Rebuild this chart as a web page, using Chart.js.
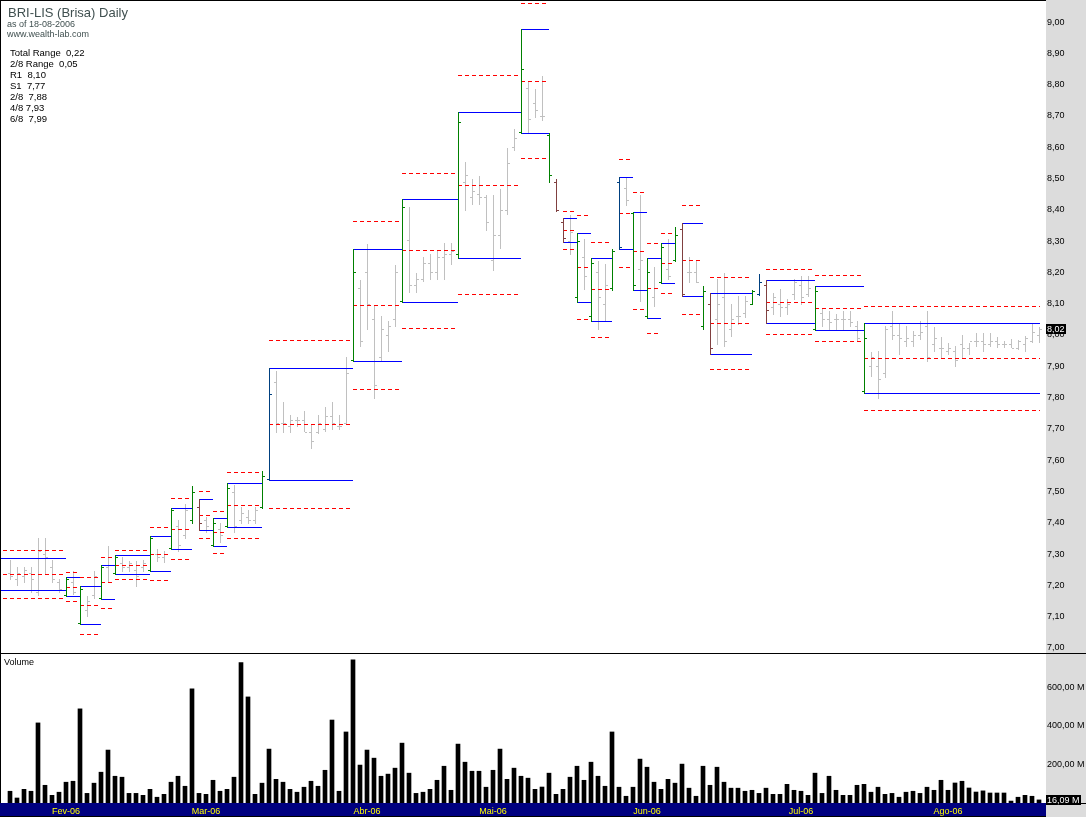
<!DOCTYPE html>
<html>
<head>
<meta charset="utf-8">
<script src="https://cdn.jsdelivr.net/npm/chart.js@4.4.1/dist/chart.umd.min.js"></script>
<style>
  body { margin: 0; background: #fff; width: 1086px; height: 817px; overflow: hidden; position: relative;
         font-family: "Liberation Sans", Arial, sans-serif; }
  canvas { position: absolute; left: 0; }
  #priceChart { top: 0; }
  #volChart { top: 653px; }
  .t { position: absolute; white-space: pre; line-height: 1; }
</style>
</head>
<body>
<canvas id="priceChart" width="1086" height="653"></canvas>
<canvas id="volChart" width="1086" height="164"></canvas>

<div class="t" style="left:8px;top:6px;font-size:13px;color:#405050">BRI-LIS (Brisa) Daily</div>
<div class="t" style="left:7px;top:20px;font-size:9px;color:#405050">as of 18-08-2006</div>
<div class="t" style="left:7px;top:30px;font-size:9px;color:#405050">www.wealth-lab.com</div>
<div class="t" style="left:10px;top:47px;font-size:9.5px;line-height:11px;color:#000">Total Range  0,22
2/8 Range  0,05
R1  8,10
S1  7,77
2/8  7,88
4/8 7,93
6/8  7,99</div>
<div class="t" style="left:4px;top:658px;font-size:9px;color:#000">Volume</div>

<script>
const FONT = '"Liberation Sans", Arial, sans-serif';

// month labels on the time axis (bar index of the first session of the month)
const monthLabels = ['Fev-06', 'Mar-06', 'Abr-06', 'Mai-06', 'Jun-06', 'Jul-06', 'Ago-06'];
const monthTicks = [8, 28, 51, 69, 91, 113, 134];

const priceTicks = [7.0, 7.1, 7.2, 7.3, 7.4, 7.5, 7.6, 7.7, 7.8, 7.9, 8.0,
                    8.1, 8.2, 8.3, 8.4, 8.5, 8.6, 8.7, 8.8, 8.9, 9.0];
const volumeTicks = [200, 400, 600];   // millions

// daily bars, 20-01-2006 .. 18-08-2006
const priceOpen = [
  7.24, 7.22, 7.23, 7.24, 7.18, 7.30, 7.26, 7.21, 7.17, 7.21,
  7.08, 7.12, 7.17, 7.16, 7.26, 7.24, 7.27, 7.26, 7.25, 7.26,
  7.25, 7.30, 7.29, 7.32, 7.39, 7.36, 7.41, 7.45, 7.41, 7.33,
  7.38, 7.39, 7.50, 7.41, 7.42, 7.41, 7.45, 7.54, 7.85, 7.72,
  7.71, 7.73, 7.73, 7.69, 7.69, 7.70, 7.74, 7.71, 7.72, 7.92,
  8.15, 8.20, 8.05, 7.93, 8.00, 8.05, 8.11, 8.305, 8.16, 8.18,
  8.23, 8.20, 8.25, 8.26, 8.26, 8.49, 8.44, 8.45, 8.44, 8.24,
  8.32, 8.40, 8.60, 8.65, 8.79, 8.74, 8.70, 8.64, 8.49, 8.36,
  8.30, 8.12, 8.25, 8.06, 8.20, 8.10, 8.15, 8.49, 8.47, 8.39,
  8.21, 8.06, 8.12, 8.17, 8.21, 8.24, 8.34, 8.20, 8.20, 8.03,
  8.10, 8.05, 8.12, 8.02, 8.06, 8.07, 8.10, 8.13, 8.16, 8.09,
  8.10, 8.09, 8.13, 8.16, 8.13, 8.02, 8.07, 8.05, 8.05, 8.05,
  8.05, 8.03, 7.82, 7.90, 7.90, 7.88, 8.03, 8.00, 7.98, 7.98,
  8.00, 8.03, 7.97, 7.96, 7.95, 7.95, 7.97, 7.96, 7.98, 7.98,
  7.97, 7.98, 7.97, 7.97, 7.96, 7.97, 7.98, 8.00
];
const priceHigh = [
  7.28, 7.26, 7.26, 7.26, 7.35, 7.35, 7.28, 7.22, 7.226, 7.247,
  7.197, 7.166, 7.247, 7.265, 7.327, 7.297, 7.29, 7.278, 7.278, 7.28,
  7.357, 7.317, 7.31, 7.447, 7.41, 7.46, 7.518, 7.476, 7.42, 7.415,
  7.40, 7.527, 7.52, 7.45, 7.44, 7.45, 7.566, 7.895, 7.886, 7.787,
  7.746, 7.737, 7.758, 7.716, 7.746, 7.77, 7.787, 7.746, 7.929, 8.276,
  8.177, 8.29, 8.094, 8.06, 8.046, 8.225, 8.436, 8.409, 8.197, 8.249,
  8.258, 8.267, 8.295, 8.295, 8.714, 8.553, 8.497, 8.507, 8.446, 8.446,
  8.466, 8.596, 8.658, 8.977, 8.807, 8.786, 8.827, 8.647, 8.497, 8.375,
  8.382, 8.327, 8.307, 8.247, 8.238, 8.227, 8.276, 8.506, 8.505, 8.394,
  8.446, 8.247, 8.217, 8.295, 8.307, 8.346, 8.357, 8.249, 8.238, 8.157,
  8.135, 8.18, 8.198, 8.10, 8.126, 8.126, 8.145, 8.196, 8.177, 8.135,
  8.146, 8.116, 8.18, 8.187, 8.187, 8.157, 8.087, 8.078, 8.068, 8.078,
  8.078, 8.046, 8.037, 7.947, 7.95, 8.03, 8.078, 8.036, 8.03, 8.014,
  8.046, 8.078, 8.027, 7.995, 7.973, 7.964, 8.0, 7.973, 8.006, 8.006,
  8.006, 7.993, 7.982, 7.987, 7.985, 7.998, 8.036, 8.027
];
const priceLow = [
  7.22, 7.20, 7.21, 7.18, 7.17, 7.24, 7.21, 7.18, 7.165, 7.172,
  7.076, 7.102, 7.161, 7.156, 7.21, 7.236, 7.247, 7.247, 7.198, 7.247,
  7.245, 7.278, 7.275, 7.316, 7.31, 7.35, 7.40, 7.377, 7.37, 7.326,
  7.34, 7.386, 7.37, 7.40, 7.40, 7.40, 7.448, 7.537, 7.69, 7.689,
  7.689, 7.71, 7.694, 7.638, 7.688, 7.694, 7.70, 7.70, 7.716, 7.918,
  7.966, 8.02, 7.799, 7.92, 7.95, 8.03, 8.106, 8.137, 8.137, 8.174,
  8.178, 8.18, 8.18, 8.228, 8.247, 8.398, 8.42, 8.42, 8.337, 8.208,
  8.278, 8.388, 8.59, 8.647, 8.647, 8.697, 8.686, 8.489, 8.397, 8.296,
  8.26, 8.107, 8.148, 8.045, 8.02, 8.046, 8.145, 8.276, 8.414, 8.145,
  8.11, 8.055, 8.094, 8.167, 8.18, 8.237, 8.125, 8.169, 8.169, 8.019,
  7.939, 7.972, 7.966, 7.998, 8.036, 8.057, 8.099, 8.129, 8.037, 8.068,
  8.062, 8.068, 8.116, 8.10, 8.126, 8.017, 8.03, 8.02, 8.02, 8.02,
  8.03, 7.982, 7.815, 7.868, 7.798, 7.865, 7.987, 7.94, 7.966, 7.966,
  7.987, 7.918, 7.95, 7.929, 7.94, 7.90, 7.93, 7.94, 7.966, 7.95,
  7.966, 7.961, 7.961, 7.961, 7.956, 7.95, 7.977, 7.977
];
const priceClose = [
  7.23, 7.24, 7.25, 7.22, 7.31, 7.29, 7.22, 7.19, 7.22, 7.18,
  7.19, 7.15, 7.23, 7.26, 7.29, 7.29, 7.26, 7.27, 7.23, 7.27,
  7.35, 7.29, 7.30, 7.44, 7.33, 7.44, 7.50, 7.40, 7.39, 7.40,
  7.36, 7.51, 7.39, 7.43, 7.41, 7.44, 7.55, 7.81, 7.72, 7.72,
  7.73, 7.73, 7.69, 7.66, 7.72, 7.74, 7.72, 7.71, 7.88, 8.20,
  7.98, 8.10, 7.84, 8.02, 8.03, 8.20, 8.41, 8.16, 8.18, 8.23,
  8.20, 8.25, 8.26, 8.27, 8.68, 8.51, 8.46, 8.44, 8.36, 8.32,
  8.40, 8.55, 8.63, 8.85, 8.69, 8.72, 8.70, 8.51, 8.40, 8.31,
  8.33, 8.30, 8.19, 8.23, 8.12, 8.16, 8.27, 8.28, 8.43, 8.16,
  8.24, 8.20, 8.15, 8.28, 8.19, 8.32, 8.13, 8.20, 8.17, 8.14,
  7.96, 8.10, 7.98, 8.05, 8.06, 8.11, 8.14, 8.17, 8.08, 8.12,
  8.09, 8.10, 8.17, 8.12, 8.15, 8.14, 8.05, 8.04, 8.05, 8.05,
  8.04, 7.99, 7.99, 7.93, 7.86, 8.02, 8.00, 7.99, 7.99, 8.00,
  8.01, 7.93, 7.99, 7.96, 7.96, 7.92, 7.96, 7.98, 7.98, 7.97,
  7.98, 7.97, 7.97, 7.96, 7.98, 7.99, 8.01, 8.02
];
// volume in millions
const volume = [
  61, 26, 71, 61, 416, 92, 40, 56, 108, 113,
  489, 50, 103, 160, 275, 139, 134, 50, 50, 40,
  71, 30, 45, 108, 139, 87, 593, 50, 45, 118,
  61, 71, 134, 729, 551, 45, 103, 280, 123, 108,
  71, 56, 82, 113, 87, 170, 431, 61, 369, 744,
  197, 275, 233, 139, 150, 181, 311, 155, 50, 56,
  71, 118, 191, 66, 306, 212, 165, 165, 82, 170,
  280, 123, 181, 139, 129, 71, 83, 155, 45, 71,
  134, 191, 118, 212, 139, 87, 369, 82, 35, 82,
  228, 186, 108, 71, 123, 103, 202, 77, 35, 191,
  92, 186, 108, 77, 77, 61, 66, 50, 77, 45,
  45, 97, 66, 61, 40, 155, 50, 139, 66, 40,
  40, 92, 97, 56, 82, 45, 50, 30, 56, 61,
  50, 82, 66, 118, 66, 104, 113, 78, 57, 63,
  52, 52, 52, 10, 30, 40, 35, 16.09
];

// Murrey boxes: first bar, 8/8 and 0/8 levels, colour of the opening bar
const boxStart = [-2, 8, 10, 13, 15, 20, 23, 26, 27, 29, 31, 36, 37, 49, 56, 64, 73, 77,
                  78, 79, 81, 83, 86, 87, 89, 91, 93, 95, 96, 99, 100, 106, 107, 108, 115, 122];
const boxTop = [7.287, 7.226, 7.197, 7.265, 7.297, 7.357, 7.447, 7.518, 7.476, 7.415, 7.527, 7.566,
                7.895, 8.276, 8.436, 8.714, 8.977, 8.647, 8.497, 8.375, 8.327, 8.247, 8.276, 8.506,
                8.394, 8.247, 8.295, 8.346, 8.357, 8.157, 8.135, 8.145, 8.196, 8.177, 8.157, 8.037];
const boxBottom = [7.185, 7.165, 7.076, 7.156, 7.236, 7.245, 7.316, 7.40, 7.377, 7.326, 7.386, 7.448,
                   7.537, 7.918, 8.106, 8.247, 8.647, 8.489, 8.397, 8.296, 8.107, 8.045, 8.145, 8.276,
                   8.145, 8.055, 8.167, 8.237, 8.125, 8.019, 7.939, 8.099, 8.129, 8.037, 8.017, 7.815];
const boxDir = ['up', 'up', 'up', 'up', 'up', 'up', 'up', 'up', 'down', 'up', 'up', 'up',
                'flat', 'up', 'up', 'up', 'up', 'up', 'down', 'down', 'up', 'up', 'up', 'flat',
                'up', 'up', 'up', 'up', 'down', 'up', 'down', 'up', 'flat', 'down', 'up', 'up'];

const dirColours = { up: '#008000', down: '#804040', flat: '#004080' };

const xMin = -10 / 7;
const xMax = xMin + 1046 / 7;

const fmtPrice = v => v.toFixed(2).replace('.', ',');
const fmtVol = v => v.toFixed(2).replace('.', ',') + ' M';

const framePlugin = {
  id: 'frame',
  beforeDraw(chart) {
    const { ctx, chartArea: a, width, height } = chart;
    ctx.save();
    ctx.fillStyle = '#fff';
    ctx.fillRect(0, 0, width, height);
    ctx.fillStyle = '#dcdcdc';
    ctx.fillRect(a.right, 0, width - a.right, height);
    ctx.fillStyle = '#000';
    ctx.fillRect(0, 0, 1, height);
    ctx.restore();
  }
};

function valueTag(chart, value, text) {
  const { ctx, chartArea: a, scales: { y } } = chart;
  const yy = Math.round(y.getPixelForValue(value));
  ctx.save();
  ctx.font = '9px ' + FONT;
  const w = Math.ceil(ctx.measureText(text).width) + 2;
  ctx.fillStyle = '#000';
  ctx.fillRect(a.right, yy - 5, w, 10);
  ctx.fillStyle = '#fff';
  ctx.textBaseline = 'middle';
  ctx.fillText(text, a.right + 1, yy + 0.5);
  ctx.restore();
}

const pricePlugin = {
  id: 'murrey',
  afterDraw(chart) {
    const { ctx, chartArea: a, scales: { x, y } } = chart;
    const col = i => Math.round(x.getPixelForValue(i));
    const row = v => Math.round(y.getPixelForValue(v));

    ctx.save();
    ctx.fillStyle = '#000';
    ctx.fillRect(0, 0, a.right, 1);
    ctx.beginPath();
    ctx.rect(a.left + 1, a.top + 1, a.right - a.left - 1, a.bottom - a.top - 1);
    ctx.clip();

    const drawBar = (i, colour) => {
      const c = col(i);
      const top = row(priceHigh[i]);
      const bot = row(priceLow[i]);
      ctx.fillStyle = colour;
      ctx.fillRect(c, top, 1, bot - top + 1);
      ctx.fillRect(c - 2, row(priceOpen[i]), 2, 1);
      ctx.fillRect(c + 1, row(priceClose[i]), 2, 1);
    };

    // price bars
    priceHigh.forEach((h, i) => {
      if (!boxStart.includes(i)) drawBar(i, '#c0c0c0');
    });

    // box levels
    const last = priceClose.length - 1;
    boxStart.forEach((s, k) => {
      const e = k + 1 < boxStart.length ? boxStart[k + 1] : last + 0.2;
      if (e - s < 2) return;
      const x0 = col(s), x1 = col(e);
      const top = boxTop[k], bot = boxBottom[k];
      const step = (top - bot) / 4;
      ctx.fillStyle = '#0000ff';
      ctx.fillRect(x0, row(top), x1 - x0, 1);
      ctx.fillRect(x0, row(bot), x1 - x0, 1);
      ctx.fillStyle = '#ff0000';
      [top + step, (top + bot) / 2, bot - step].forEach(v => {
        const yy = row(v);
        for (let xx = x0; xx < x1; xx += 7) ctx.fillRect(xx, yy, Math.min(4, x1 - xx), 1);
      });
    });

    // opening bar of each box
    boxStart.forEach((s, k) => {
      if (s >= 0) drawBar(s, dirColours[boxDir[k]]);
    });
    ctx.restore();

    valueTag(chart, priceClose[last], fmtPrice(priceClose[last]));
  }
};

new Chart(document.getElementById('priceChart'), {
  type: 'line',
  data: { datasets: [] },
  options: {
    responsive: false,
    animation: false,
    devicePixelRatio: 1,
    layout: { padding: 0 },
    plugins: { legend: { display: false }, tooltip: { enabled: false } },
    scales: {
      x: { type: 'linear', min: xMin, max: xMax, offset: false, display: false },
      y: {
        type: 'linear',
        position: 'right',
        min: 6.984,
        max: 9.0704,
        grid: { display: false, drawTicks: false },
        border: { display: false },
        ticks: { color: '#000', padding: 1, font: { family: FONT, size: 9 }, callback: v => fmtPrice(v) },
        afterBuildTicks: s => { s.ticks = priceTicks.map(v => ({ value: v })); },
        afterFit: s => { s.width = 40; s.paddingTop = 0; s.paddingBottom = 0; }
      }
    }
  },
  plugins: [framePlugin, pricePlugin]
});

const volumeFrame = {
  id: 'volFrame',
  beforeDraw(chart) {
    const { ctx, chartArea: a, width, height } = chart;
    ctx.save();
    ctx.fillStyle = '#000080';
    ctx.fillRect(0, a.bottom, a.right, height - a.bottom - 1);
    ctx.fillStyle = '#000';
    ctx.fillRect(0, height - 1, a.right, 1);
    ctx.fillRect(0, 0, width, 1);
    ctx.fillRect(a.right, a.bottom, width - a.right, 1);
    ctx.restore();
  },
  afterDraw(chart) {
    const v = volume[volume.length - 1];
    valueTag(chart, v, fmtVol(v));
  }
};

new Chart(document.getElementById('volChart'), {
  type: 'bar',
  data: {
    datasets: [{
      data: volume.map((v, i) => ({ x: i, y: v })),
      backgroundColor: '#000',
      borderWidth: 0,
      barThickness: 4
    }]
  },
  options: {
    responsive: false,
    animation: false,
    devicePixelRatio: 1,
    layout: { padding: { top: 1 } },
    plugins: { legend: { display: false }, tooltip: { enabled: false } },
    scales: {
      x: {
        type: 'linear',
        min: xMin,
        max: xMax,
        offset: false,
        grid: { display: false, drawTicks: false, offset: false },
        border: { display: false },
        ticks: {
          color: '#ffff00', padding: 3, maxRotation: 0, autoSkip: false,
          font: { family: FONT, size: 9 },
          callback: v => monthLabels[monthTicks.indexOf(v)]
        },
        afterBuildTicks: s => { s.ticks = monthTicks.map(v => ({ value: v })); },
        afterFit: s => { s.height = 14; s.paddingLeft = 0; s.paddingRight = 0; }
      },
      y: {
        type: 'linear',
        position: 'right',
        min: 0,
        max: 774,
        grid: { display: false, drawTicks: false },
        border: { display: false },
        ticks: { color: '#000', padding: 1, font: { family: FONT, size: 9 }, callback: v => fmtVol(v) },
        afterBuildTicks: s => { s.ticks = volumeTicks.map(v => ({ value: v })); },
        afterFit: s => { s.width = 40; s.paddingTop = 0; s.paddingBottom = 0; }
      }
    }
  },
  plugins: [framePlugin, volumeFrame]
});
</script>
</body>
</html>
